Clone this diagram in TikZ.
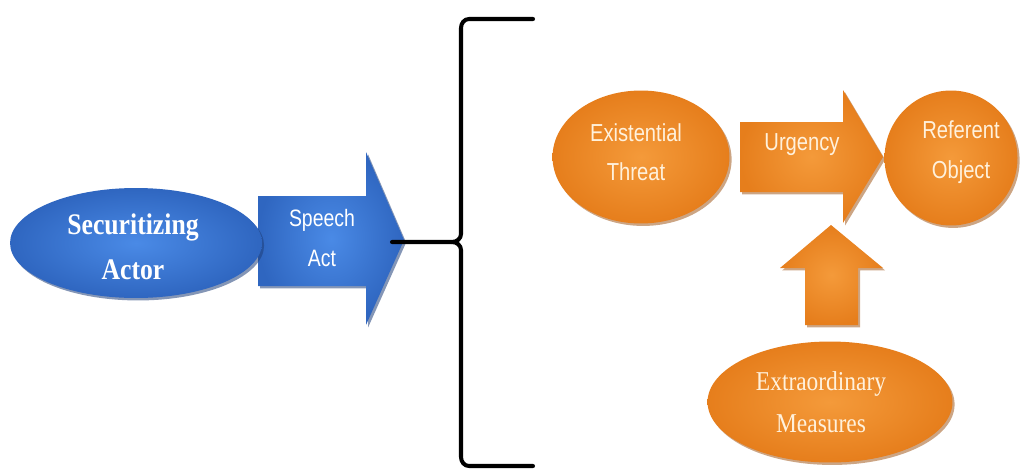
\documentclass[tikz,border=0pt]{standalone}
\usepackage{fontspec}
\setmainfont{Liberation Serif}
\newfontfamily\nsans[FakeStretch=0.82]{Liberation Sans}
\newfontfamily\nserif[FakeStretch=0.86]{Liberation Serif}
\usetikzlibrary{shapes.geometric,shadows}
\definecolor{bluein}{HTML}{4A8AE6}
\definecolor{blueout}{HTML}{2F66C0}
\definecolor{blueshadow}{HTML}{1F3F7A}
\definecolor{orin}{HTML}{F49A3A}
\definecolor{orout}{HTML}{E67E1C}
\definecolor{orshadow}{HTML}{9A4C0A}
\definecolor{cream}{HTML}{FFF1DC}
\tikzset{
  x=0.02cm, y=-0.02cm,
  bluefill/.style={inner color=bluein, outer color=blueout,
    drop shadow={shadow xshift=1.2pt, shadow yshift=-1.4pt, fill=blueshadow, opacity=0.55}},
  orfill/.style={inner color=orin, outer color=orout,
    drop shadow={shadow xshift=1.2pt, shadow yshift=-1.4pt, fill=orshadow, opacity=0.5}},
  bluell/.style={ellipse, bluefill, inner sep=0pt},
  orell/.style={ellipse, orfill, inner sep=0pt},
  sanslab/.style={text=white, font={\fontsize{13.5}{22.5}\selectfont\nsans}, align=center},
  orsanslab/.style={text=cream, font={\fontsize{14}{22.5}\selectfont\nsans}, align=center},
  seriflab/.style={align=center, font={\fontsize{15.5}{24}\selectfont\nserif}},
  brace/.style={line width=2.3pt, black, line cap=round, line join=round},
}
\begin{document}
\begin{tikzpicture}
\useasboundingbox (0,0) rectangle (1033,473);
% Speech act arrow (blue)
\path[bluefill] (258,196) -- (366,196) -- (366,152) -- (404,240) -- (366,325) -- (366,286) -- (258,286) -- cycle;
\node[sanslab] (speech) at (322,238) {Speech\\Act};
% Securitizing actor
\node[bluell, minimum width=5.04cm, minimum height=2.2cm] (actor) at (136,243) {};
\node[seriflab, text=white, font={\fontsize{17}{25.5}\selectfont\nserif\bfseries}] (actorlab) at (133,247) {\nserif\bfseries Securitizing\\\nserif\bfseries Actor};
% Brace
\coordinate (tip) at (392,242);
\coordinate (mid) at (452,242);
\coordinate (topend) at (533,19);
\coordinate (botend) at (533,466);
\draw[brace] (tip) -- (mid) to[out=0,in=-90] (461,234) -- (461,28) to[out=90,in=180] (469,19) -- (topend);
\draw[brace] (mid) to[out=0,in=90] (461,250) -- (461,457) to[out=-90,in=180] (469,466) -- (botend);
% Urgency arrow
\path[orfill] (740,122) -- (843,122) -- (843,90) -- (883,157) -- (843,223) -- (843,192) -- (740,192) -- cycle;
\node[orsanslab] (urgency) at (802,145) {Urgency};
% Up arrow
\path[orfill] (805,325) -- (805,268) -- (780,268) -- (831,225) -- (883,268) -- (858,268) -- (858,325) -- cycle;
% Ellipses
\node[orell, minimum width=3.54cm, minimum height=2.66cm] (threat) at (641,157) {};
\node[orsanslab] (threatlab) at (636,152) {Existential\\Threat};
\node[orell, minimum width=2.66cm, minimum height=2.7cm] (referent) at (951,158) {};
\node[orsanslab] (referentlab) at (961,152) {Referent\\Object};
\node[orell, minimum width=4.9cm, minimum height=2.42cm] (measures) at (830,402) {};
\node[seriflab, text=cream] (measureslab) at (821,402) {\nserif Extraordinary\\\nserif Measures};
\end{tikzpicture}
\end{document}
